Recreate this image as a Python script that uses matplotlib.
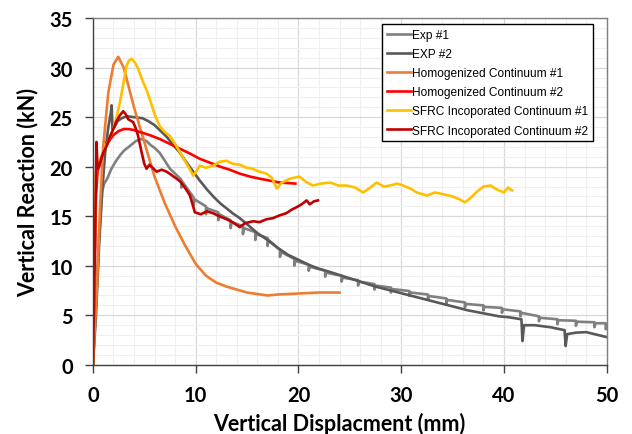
import matplotlib
matplotlib.use("Agg")
import matplotlib.pyplot as plt
from matplotlib.ticker import MultipleLocator

# Exp #1 (with unloading teeth)
exp1_x = [0, 0.3, 0.6, 0.9, 1.1, 1.4, 1.8, 2.2, 2.6, 3.0, 3.6, 4.2, 4.7, 5.2, 5.6, 6.0, 6.5, 7.0, 7.5, 8.0,
          8.6, 8.6, 8.7, 9.8, 9.8, 9.9, 11.0, 11.0, 11.1, 12.2, 12.2, 12.3, 13.4, 13.4, 13.5,
          14.6, 14.6, 14.7, 15.8, 15.8, 15.9, 17.0, 17.0, 17.1, 18.2, 18.2, 18.3, 19.6, 19.6, 19.7,
          21.0, 21.0, 21.1, 22.6, 22.6, 22.7, 24.2, 24.2, 24.3, 25.8, 25.8, 25.9, 27.4, 27.4, 27.5,
          29.0, 29.0, 29.1, 30.8, 30.8, 30.9, 32.6, 32.6, 32.7, 34.4, 34.4, 34.5, 36.2, 36.2, 36.3,
          38.0, 38.0, 38.1, 39.8, 39.8, 39.9, 41.6, 41.6, 41.7, 43.4, 43.4, 43.5, 45.2, 45.2, 45.3,
          47.0, 47.0, 47.1, 48.8, 48.8, 48.9, 49.9, 49.9, 50.0]
exp1_y = [0, 6, 13, 17.5, 18.3, 18.8, 19.8, 20.5, 21.1, 21.6, 22.1, 22.6, 22.8, 22.6, 22.2, 21.9, 21.4, 20.6, 19.8, 19.3,
          18.7, 17.9, 18.5, 16.9, 16.1, 16.7, 16.0, 15.2, 15.8, 15.4, 14.6, 15.2, 14.6, 13.8, 14.4,
          14.0, 13.2, 13.8, 13.4, 12.6, 13.2, 12.8, 12.0, 12.6, 11.6, 10.9, 11.4, 10.7, 10.0, 10.5,
          10.1, 9.5, 9.9, 9.5, 8.9, 9.3, 9.0, 8.4, 8.8, 8.55, 8.0, 8.4, 8.15, 7.6, 8.0,
          7.8, 7.3, 7.65, 7.45, 6.95, 7.3, 7.1, 6.6, 6.95, 6.7, 6.2, 6.55, 6.3, 5.8, 6.15,
          6.0, 5.5, 5.85, 5.75, 5.25, 5.6, 5.4, 4.9, 5.25, 4.9, 4.4, 4.75, 4.6, 4.1, 4.5,
          4.45, 3.95, 4.35, 4.3, 3.8, 4.2, 4.2, 3.6, 3.7]

# EXP #2
exp2_x = [0, 0.3, 0.6, 0.9, 1.2, 1.5, 1.75, 1.82, 1.9, 2.1, 2.4, 2.8, 3.3, 4.0, 4.8, 5.4, 6.0, 6.6, 7.2, 7.8,
          8.4, 9.0, 9.7, 10.4, 11.1, 11.8, 12.4, 13.0, 13.6, 14.3, 15.0, 16.0, 17.0, 18.0, 19.0, 20.0,
          21.0, 22.0, 23.0, 24.5, 26.0, 27.5, 29.0, 30.5, 32.0, 33.5, 35.0, 36.5, 38.0, 39.5, 40.5,
          41.7, 41.8, 41.95, 43.0, 44.5, 45.9, 46.0, 46.15, 47.0, 48.0, 49.0, 50.0]
exp2_y = [0, 5, 12, 17.5, 21.5, 24, 25.5, 26.2, 23.8, 24.0, 24.6, 24.9, 25.1, 25.0, 24.9, 24.6, 24.2, 23.6, 23.0, 22.2,
          21.5, 20.6, 19.6, 18.6, 17.7, 16.9, 16.3, 15.8, 15.3, 14.8, 14.2, 13.3, 12.6, 11.8, 11.1, 10.6,
          10.1, 9.7, 9.4, 8.9, 8.4, 7.9, 7.5, 7.1, 6.7, 6.3, 5.9, 5.5, 5.2, 4.9, 4.8,
          4.6, 2.4, 4.0, 4.0, 3.8, 3.5, 1.9, 3.1, 3.25, 3.3, 3.05, 2.8]

# Homogenized Continuum #1
hom1_x = [0, 0.4, 0.7, 1.0, 1.5, 2.0, 2.46, 3.0, 3.5, 4.0, 5.0, 6.0, 7.0, 8.0, 9.0, 10.0, 11.0, 12.0, 13.0,
          15.0, 17.0, 18.0, 20.0, 22.0, 24.0]
hom1_y = [0, 8, 16, 22, 27.5, 30.3, 31.1, 30.0, 28.0, 26.0, 22.5, 19.0, 16.3, 14.0, 12.0, 10.2, 9.0, 8.3, 7.9,
          7.3, 7.0, 7.1, 7.2, 7.3, 7.3]

# Homogenized Continuum #2
hom2_x = [0, 0.15, 0.3, 0.45, 0.7, 1.0, 1.35, 1.7, 2.0, 2.5, 3.0, 3.5, 4.0, 4.6, 5.5, 6.5, 7.5, 8.5, 9.5,
          10.4, 11.4, 12.4, 13.3, 14.3, 15.3, 16.2, 17.2, 18.2, 19.0, 19.7]
hom2_y = [0, 8, 17, 19.5, 20.5, 21.4, 22.2, 22.8, 23.2, 23.6, 23.8, 23.8, 23.7, 23.5, 23.2, 22.8, 22.3, 21.8, 21.3,
          20.8, 20.4, 20.0, 19.7, 19.3, 19.0, 18.8, 18.6, 18.4, 18.35, 18.3]

# SFRC Incoporated Continuum #1
sfrc1_x = [0, 0.15, 0.3, 0.6, 1.0, 1.5, 1.98, 2.3, 2.63, 2.95, 3.27, 3.5, 3.76, 4.1, 4.4, 4.9, 5.2, 5.54, 6.0,
           6.5, 7.0, 7.5, 8.0, 8.46, 9.0, 9.4, 9.76, 10.1, 10.4, 11.0, 11.7, 12.3, 13.0, 13.6, 14.3, 14.95,
           15.5, 16.2, 16.9, 17.4, 17.9, 18.4, 19.2, 20.1, 20.7, 21.4, 22.2, 23.1, 23.9, 24.7, 25.5, 26.3,
           27.0, 27.6, 28.3, 28.9, 29.6, 30.2, 30.9, 31.5, 32.5, 33.3, 34.2, 35.0, 35.7, 36.2, 36.8, 37.4,
           38.0, 38.7, 39.3, 40.0, 40.4, 40.8]
sfrc1_y = [0, 10, 19.5, 20.5, 21.5, 22.6, 23.8, 25.0, 26.5, 28.3, 30.2, 30.7, 30.9, 30.5, 29.9, 28.5, 27.8, 26.8, 25.3,
           24.1, 23.5, 23.1, 22.3, 21.5, 20.5, 19.8, 19.1, 19.6, 20.1, 19.9, 20.1, 20.5, 20.6, 20.3, 20.2, 19.9,
           19.8, 19.5, 19.3, 18.9, 17.8, 18.4, 18.8, 19.0, 18.5, 18.1, 18.3, 18.4, 18.1, 18.1, 17.9, 17.4,
           17.9, 18.4, 18.0, 18.1, 18.3, 18.1, 17.8, 17.4, 17.1, 17.4, 17.2, 17.0, 16.7, 16.4, 16.9, 17.5,
           18.0, 18.1, 17.7, 17.4, 17.9, 17.6]

# SFRC Incoporated Continuum #2
sfrc2_x = [0, 0.2, 0.35, 0.45, 0.6, 0.8, 1.0, 1.33, 1.65, 1.98, 2.3, 2.63, 2.95, 3.2, 3.43, 3.92, 4.2, 4.4, 4.73,
           5.0, 5.22, 5.5, 5.7, 6.2, 6.7, 7.17, 7.6, 8.14, 8.5, 8.8, 9.2, 9.44, 9.7, 9.92, 10.5, 11.1, 11.7,
           12.3, 13.0, 13.6, 14.3, 14.8, 15.6, 16.2, 16.9, 17.5, 18.2, 18.8, 19.4, 19.8, 20.3, 20.8, 21.1,
           21.5, 21.9]
sfrc2_y = [0, 12, 22.5, 19.8, 20.0, 20.8, 21.4, 22.1, 23.0, 23.8, 24.6, 25.2, 25.6, 25.3, 24.8, 24.5, 23.8, 23.1, 21.5,
           20.3, 19.8, 20.2, 20.0, 19.5, 19.7, 19.5, 19.2, 18.8, 18.5, 18.1, 17.5, 17.1, 16.2, 15.4, 15.2, 15.5, 15.3,
           15.0, 14.7, 14.4, 13.9, 14.3, 14.5, 14.4, 14.7, 14.8, 15.1, 15.3, 15.7, 15.9, 16.2, 16.6, 16.2,
           16.5, 16.6]

series = [
    (exp1_x, exp1_y, "Exp #1", "#808080"),
    (exp2_x, exp2_y, "EXP #2", "#595959"),
    (hom1_x, hom1_y, "Homogenized Continuum #1", "#ED7D31"),
    (hom2_x, hom2_y, "Homogenized Continuum #2", "#FF0000"),
    (sfrc1_x, sfrc1_y, "SFRC Incoporated Continuum #1", "#FFC000"),
    (sfrc2_x, sfrc2_y, "SFRC Incoporated Continuum #2", "#C00000"),
]

fig = plt.figure(figsize=(6.32, 4.35), dpi=100)
ax = fig.add_axes([0.147, 0.159, 0.813, 0.797])

for xs, ys, lab, col in series:
    ax.plot(xs, ys, color=col, lw=1.9, label=lab)

ax.set_xlim(0, 50)
ax.set_ylim(0, 35)
ax.xaxis.set_major_locator(MultipleLocator(10))
ax.xaxis.set_minor_locator(MultipleLocator(2))
ax.yaxis.set_major_locator(MultipleLocator(5))
ax.yaxis.set_minor_locator(MultipleLocator(1))
ax.grid(which="major", color="#d9d9d9", lw=0.9)
ax.grid(which="minor", color="#efefef", lw=0.8)
ax.set_axisbelow(True)
ax.tick_params(which="major", direction="out", length=5.5, width=1, color="#404040",
               labelsize=14.5, pad=9)
ax.tick_params(which="minor", length=0)
for lbl in ax.get_xticklabels() + ax.get_yticklabels():
    lbl.set_fontweight("bold")
    lbl.set_family("Lato")
for s in ["left", "bottom"]:
    ax.spines[s].set_color("#404040")
    ax.spines[s].set_linewidth(1.0)
for s in ["top", "right"]:
    ax.spines[s].set_color("#808080")
    ax.spines[s].set_linewidth(1.0)

ax.set_xlabel("Vertical Displacment (mm)", fontsize=15.5, fontweight="bold", family="Lato")
ax.xaxis.set_label_coords(0.479, -0.136)
ax.set_ylabel("Vertical Reaction (kN)", fontsize=15.5, fontweight="bold", family="Lato", labelpad=8)

leg = ax.legend(loc="upper right", bbox_to_anchor=(0.973, 0.983), borderaxespad=0,
                prop={"family": "Liberation Sans", "size": 8.6},
                handlelength=2.0, handletextpad=0.1, borderpad=0.4, labelspacing=0.6,
                fancybox=False, framealpha=1, edgecolor="black")
leg.get_frame().set_linewidth(1.0)

fig.savefig("out.png", dpi=100)
